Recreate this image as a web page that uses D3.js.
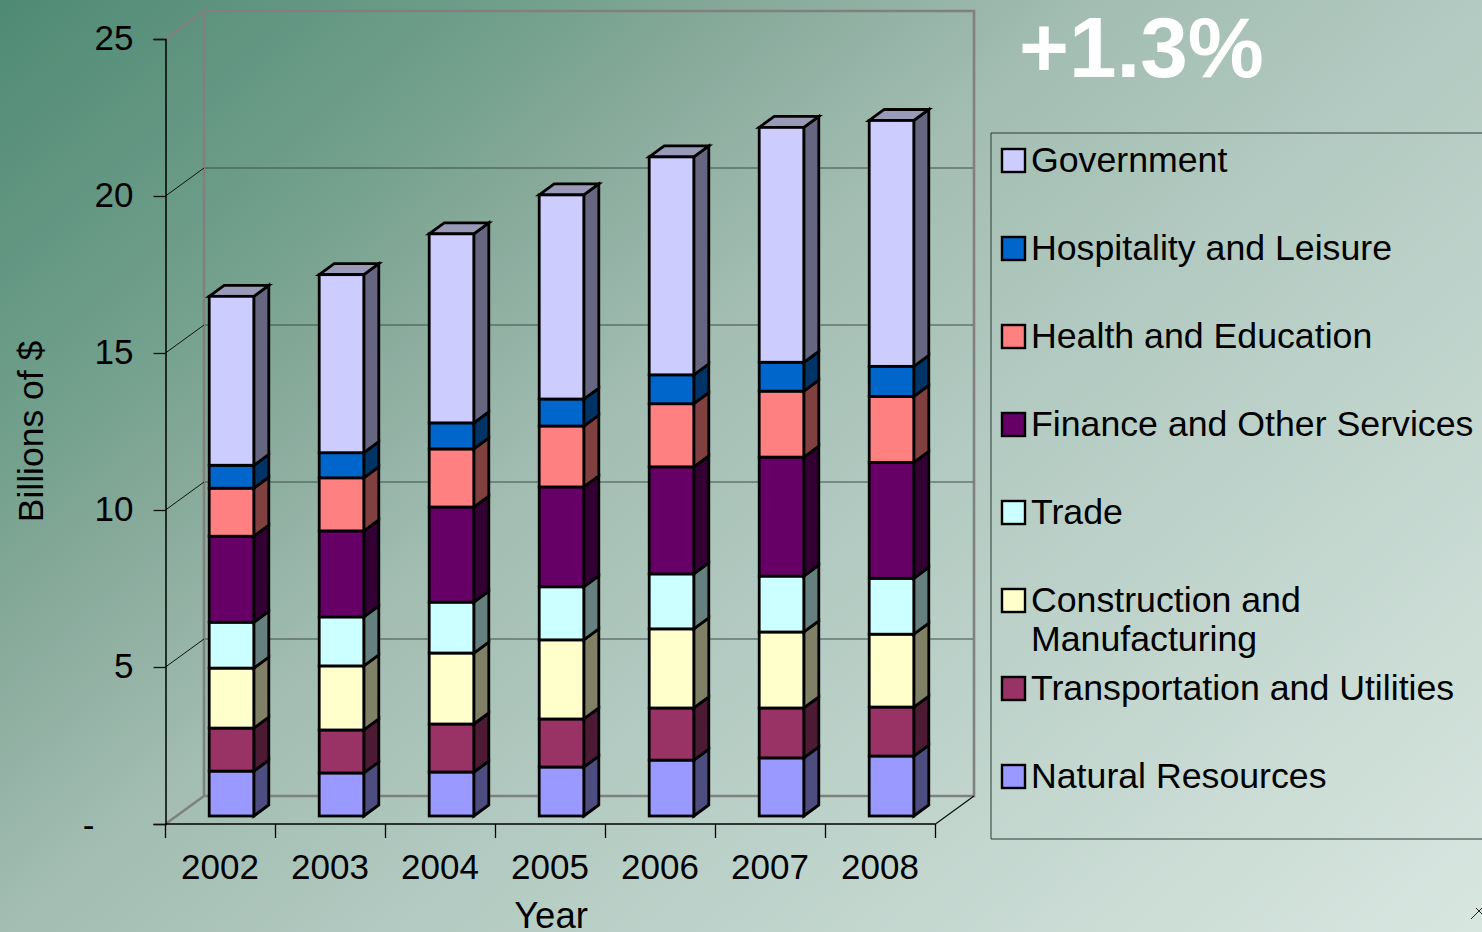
<!DOCTYPE html>
<html><head><meta charset="utf-8">
<script src="https://cdn.jsdelivr.net/npm/d3@7/dist/d3.min.js"></script>
<style>html,body{margin:0;padding:0;overflow:hidden}svg{display:block}text{font-family:"Liberation Sans",Arial,sans-serif;fill:#000}</style>
</head><body><svg id="c" width="1482" height="932"></svg>
<script>
const years = ["2002","2003","2004","2005","2006","2007","2008"];
const naturalResources = [1.43,1.37,1.40,1.56,1.78,1.85,1.91];
const transportation   = [1.37,1.37,1.53,1.53,1.66,1.59,1.56];
const construction     = [1.91,2.04,2.26,2.52,2.52,2.42,2.32];
const trade            = [1.46,1.56,1.62,1.69,1.75,1.78,1.78];
const finance          = [2.74,2.74,3.03,3.18,3.41,3.79,3.69];
const health           = [1.53,1.69,1.85,1.94,2.01,2.10,2.10];
const hospitality      = [0.73,0.80,0.83,0.86,0.92,0.92,0.96];
const government       = [5.38,5.67,6.02,6.50,6.94,7.48,7.83];
const seriesNames = ["Natural Resources","Transportation and Utilities","Construction and Manufacturing","Trade","Finance and Other Services","Health and Education","Hospitality and Leisure","Government"];
const seriesValues = [naturalResources,transportation,construction,trade,finance,health,hospitality,government];
const frontColors = ["#9999FF","#993366","#FFFFCC","#CCFFFF","#660066","#FF8080","#0066CC","#CCCCFF"];
const sideColors  = ["#4D4D80","#4D1A33","#808066","#668080","#330033","#804040","#003366","#666680"];
const topColor = "#9999B8";
const yTicks = [0,5,10,15,20,25];

const svg = d3.select("#c");
const defs = svg.append("defs");
const grad = defs.append("linearGradient").attr("id","bg").attr("gradientUnits","userSpaceOnUse")
  .attr("x1",0).attr("y1",0).attr("x2",1072).attr("y2",1265);
[[0,"#4F8A74"],[0.21,"#72A08D"],[0.29,"#86A99A"],[0.43,"#A3BDB2"],[0.58,"#B2CAC1"],[1,"#D8E6E0"]].forEach(s=>grad.append("stop").attr("offset",s[0]).attr("stop-color",s[1]));
svg.append("rect").attr("width",1482).attr("height",932).attr("fill","url(#bg)");

const depthX = 38.5, depthY = -28, barDX = 15, barDY = -11;
const x = d3.scaleBand().domain(years).range([165.5,935.5]);
const y = d3.scaleLinear().domain([0,25]).range([824,39]);
const barBaseShift = -8, barInset = 43.7, barW = 44.6;

// walls
const wall = svg.append("g").attr("fill","none");
const x0 = x.range()[0], x1 = x.range()[1];
wall.append("path").attr("stroke","#808080").attr("stroke-width",2.6)
  .attr("d",`M${x0},${y(25)}L${x0+depthX},${y(25)+depthY}H${x1+depthX}V${y(0)+depthY}H${x0+depthX}V${y(25)+depthY} M${x0+depthX},${y(0)+depthY}L${x0},${y(0)}`);
wall.selectAll("line.g").data(yTicks.filter(t=>t>0&&t<25)).join("line").attr("class","g")
  .attr("x1",x0+depthX+1).attr("x2",x1+depthX-1).attr("y1",d=>y(d)+depthY).attr("y2",d=>y(d)+depthY)
  .attr("stroke","#3f4f48").attr("stroke-width",1.2);
wall.selectAll("line.d").data(yTicks.filter(t=>t>0&&t<25)).join("line").attr("class","d")
  .attr("x1",x0).attr("x2",x0+depthX).attr("y1",d=>y(d)).attr("y2",d=>y(d)+depthY)
  .attr("stroke","#111").attr("stroke-width",1);
wall.append("line").attr("x1",x1).attr("y1",y(0)).attr("x2",x1+depthX).attr("y2",y(0)+depthY).attr("stroke","#111").attr("stroke-width",1.2);

// y axis
const yAxis = svg.append("g").attr("transform",`translate(${x0},0)`)
  .call(d3.axisLeft(y).tickValues(yTicks).tickSize(12).tickPadding(20).tickFormat(d=>d===0?"-":d));
yAxis.selectAll("text").attr("font-size",35).style("font-family",'"Liberation Sans"').attr("fill","#000").attr("dy","0.3em");
yAxis.selectAll("path").attr("stroke","#000").attr("stroke-width",1.5);
yAxis.selectAll("line").attr("stroke","#111").attr("stroke-width",1.3);
yAxis.selectAll(".tick").filter(d=>d===0).select("text").attr("x",-71).attr("dy","0.36em");

// x axis
const xAxis = svg.append("g").attr("transform",`translate(0,${y(0)})`)
  .call(d3.axisBottom(x).tickSize(0).tickPadding(44));
xAxis.selectAll("text").attr("font-size",35).style("font-family",'"Liberation Sans"').attr("fill","#000").attr("dy","0.3em").attr("dx",-0.5);
xAxis.select("path").attr("stroke","#000").attr("stroke-width",1.5).attr("d",`M${x0},0H${x1}`);
xAxis.selectAll("line.b").data([...years.map(d=>x(d)),x1]).join("line").attr("class","b")
  .attr("x1",d=>d).attr("x2",d=>d).attr("y1",0).attr("y2",14).attr("stroke","#000").attr("stroke-width",1.3);

// bars
const stackRows = years.map((yr,i)=>{const o={year:yr};seriesNames.forEach((n,k)=>o[n]=seriesValues[k][i]);return o;});
const stacked = d3.stack().keys(seriesNames)(stackRows);
const by = v => y(v)+barBaseShift;
const barsG = svg.append("g").attr("stroke","#000").attr("stroke-width",2.8).attr("stroke-linejoin","miter");
stacked.forEach((layer,k)=>{
  const g = barsG.append("g");
  layer.forEach(d=>{
    const yr = d.data.year, l = x(yr)+barInset, r = l+barW, t = by(d[1]), b = by(d[0]);
    g.append("path").attr("fill",sideColors[k])
      .attr("d",`M${r},${b}L${r+barDX},${b+barDY}L${r+barDX},${t+barDY}L${r},${t}Z`);
    if(k===stacked.length-1) g.append("path").attr("fill",topColor)
      .attr("d",`M${l},${t}L${l+barDX},${t+barDY}L${r+barDX},${t+barDY}L${r},${t}Z`);
    g.append("rect").attr("x",l).attr("y",t).attr("width",barW).attr("height",b-t).attr("fill",frontColors[k]);
  });
});

// axis titles
svg.append("text").attr("transform","translate(43,431.5) rotate(-90)").attr("text-anchor","middle").attr("font-size",35.5).text("Billions of $");
svg.append("text").attr("x",551).attr("y",928).attr("text-anchor","middle").attr("font-size",36.5).text("Year");
svg.append("text").attr("x",1019).attr("y",77).attr("font-size",85.5).attr("font-weight","bold").style("fill","#fff").text("+1.3%");

// legend
svg.append("path").attr("d","M1482,133H991V839H1482").attr("fill","none").attr("stroke","#2b3a34").attr("stroke-width",1);
const legendOrder = d3.range(seriesNames.length).reverse();
const legendY = d3.scalePoint().domain(legendOrder).range([160,776]);
const leg = svg.append("g");
legendOrder.forEach(k=>{
  const cy = legendY(k);
  leg.append("rect").attr("x",1002).attr("y",cy-11).attr("width",23).attr("height",23).attr("fill",frontColors[k]).attr("stroke","#000").attr("stroke-width",2.4);
  const name = seriesNames[k];
  const lines = name==="Construction and Manufacturing" ? ["Construction and","Manufacturing"] : [name];
  lines.forEach((ln,i)=>leg.append("text").attr("x",1031).attr("y",cy+12+i*39).attr("font-size",35.7).text(ln));
});
// small mark at the bottom right corner
svg.append("path").attr("d","M1471,919L1482,908M1476,908L1482,914").attr("stroke","#222").attr("stroke-width",1).attr("fill","none");
</script></body></html>
